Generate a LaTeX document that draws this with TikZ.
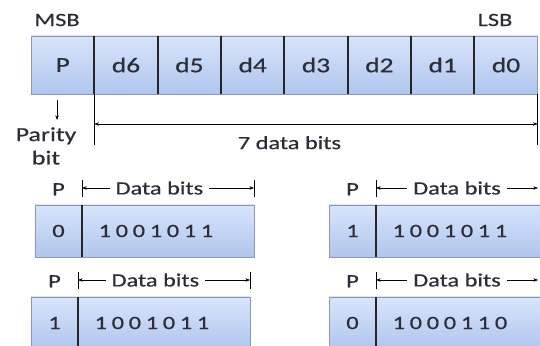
\documentclass[tikz,border=0pt]{standalone}
\usepackage{fontspec}
\setmainfont[FakeStretch=1.3, FakeBold=0.6]{Carlito}
\newfontfamily\bitsfont[FakeStretch=1.3, FakeBold=0.6, LetterSpace=25]{Carlito}
\usetikzlibrary{arrows.meta, positioning}
\definecolor{boxtop}{RGB}{216,228,251}
\definecolor{boxbottom}{RGB}{176,198,238}
\definecolor{boxline}{RGB}{140,152,176}
\definecolor{ink}{RGB}{45,45,55}
\tikzset{
  cell/.style={rectangle, draw=boxline, top color=boxtop, bottom color=boxbottom,
               minimum width=1.9cm, minimum height=1.74cm, inner sep=0pt,
               outer sep=0pt, text=ink, font=\fontsize{18}{20}\selectfont},
  pbox/.style={cell, minimum width=1.41cm, minimum height=1.56cm,
               font=\fontsize{16}{18}\selectfont},
  databox/.style={pbox, minimum width=5.16cm, text width=4.16cm, align=left,
                  font=\fontsize{16}{18}\bitsfont},
  divider/.style={line width=1.6pt, black!85},
  dim/.style={{Stealth[length=4pt,width=3pt]}-{Stealth[length=4pt,width=3pt]}, thin, black},
  pointer/.style={-{Stealth[length=4pt,width=3pt]}, thin, black},
  guide/.style={thin, black},
  lbl/.style={text=ink, font=\fontsize{16}{18}\selectfont, inner sep=1pt},
  gap/.style={lbl, fill=white, inner xsep=5pt},
}

\begin{document}
\begin{tikzpicture}[x=0.03cm, y=-0.03cm]
  \useasboundingbox (0,0) rectangle (540,346);
  \clip (0,0) rectangle (540,346);

  % Frame of 8 bits
  \node[cell] (p) at (62.7,65) {P};
  \node[cell, right=0pt of p] (d6) {d6};
  \node[cell, right=0pt of d6] (d5) {d5};
  \node[cell, right=0pt of d5] (d4) {d4};
  \node[cell, right=0pt of d4] (d3) {d3};
  \node[cell, right=0pt of d3] (d2) {d2};
  \node[cell, right=0pt of d2] (d1) {d1};
  \node[cell, right=0pt of d1] (d0) {d0};
  \foreach \a in {p,d6,d5,d4,d3,d2,d1}
    \draw[divider] (\a.north east) -- (\a.south east);

  \node[lbl] (msb) at (57,20) {MSB};
  \node[lbl] (lsb) at (495,20) {LSB};

  % Parity bit marker
  \node[lbl, align=center, font=\fontsize{17}{20}\selectfont] (parity) at (46,146) {Parity\\bit};
  \draw[pointer] ([xshift=-0.17cm, yshift=-0.18cm]p.south) -- ++(0,20);

  % 7 data bits span
  \draw[guide] (p.south east) -- ++(0,51);
  \draw[guide] (d0.south east) -- ++(0,51);
  \draw[dim] ([yshift=-0.9cm]p.south east) -- ([yshift=-0.9cm]d0.south east)
    node[lbl, pos=0.44, below=0.32cm] {7 data bits};

  % Examples, left column
  \node[pbox] (p1) at (58.5,231) {0};
  \node[databox, right=0pt of p1] (b1) {1001011};
  \draw[divider] (p1.north east) -- (p1.south east);
  \node[lbl, above=0.25cm of p1] (pl1) {P};
  \draw[guide] ([yshift=0.24cm]b1.north west) -- ([yshift=0.75cm]b1.north west);
  \draw[guide] ([yshift=0.24cm]b1.north east) -- ([yshift=0.75cm]b1.north east);
  \draw[dim] ([yshift=0.51cm]b1.north west) -- ([yshift=0.51cm]b1.north east)
    node[gap, pos=0.45] {Data bits};

  \node[pbox] (p3) at (54.5,323) {1};
  \node[databox, right=0pt of p3] (b3) {1001011};
  \draw[divider] (p3.north east) -- (p3.south east);
  \node[lbl, above=0.25cm of p3] (pl3) {P};
  \draw[guide] ([yshift=0.24cm]b3.north west) -- ([yshift=0.75cm]b3.north west);
  \draw[guide] ([yshift=0.24cm]b3.north east) -- ([yshift=0.75cm]b3.north east);
  \draw[dim] ([yshift=0.51cm]b3.north west) -- ([yshift=0.51cm]b3.north east)
    node[gap, pos=0.45] {Data bits};

  % Examples, right column
  \node[pbox] (p2) at (352.5,231) {1};
  \node[databox, right=0pt of p2] (b2) {1001011};
  \draw[divider] (p2.north east) -- (p2.south east);
  \node[lbl, above=0.25cm of p2] (pl2) {P};
  \draw[guide] ([yshift=0.24cm]b2.north west) -- ([yshift=0.75cm]b2.north west);
  \draw[dim] ([yshift=0.51cm]b2.north west) -- ([yshift=0.51cm, xshift=-0.3cm]b2.north east)
    node[gap, midway] {Data bits};

  \node[pbox] (p4) at (352.5,323) {0};
  \node[databox, right=0pt of p4] (b4) {1000110};
  \draw[divider] (p4.north east) -- (p4.south east);
  \node[lbl, above=0.25cm of p4] (pl4) {P};
  \draw[guide] ([yshift=0.24cm]b4.north west) -- ([yshift=0.75cm]b4.north west);
  \draw[dim] ([yshift=0.51cm]b4.north west) -- ([yshift=0.51cm, xshift=-0.3cm]b4.north east)
    node[gap, midway] {Data bits};
\end{tikzpicture}
\end{document}
